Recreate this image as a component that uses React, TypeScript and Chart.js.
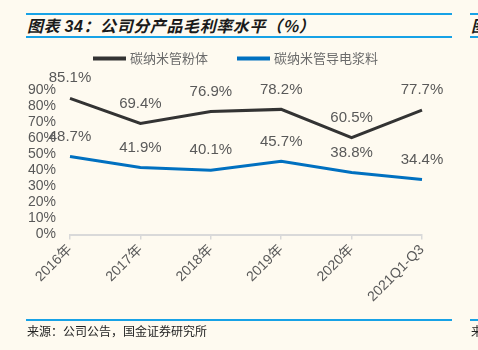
import React, { useEffect, useRef } from "react";
import { Chart, registerables } from "chart.js";

Chart.register(...registerables);

const categories = ["2016年", "2017年", "2018年", "2019年", "2020年", "2021Q1-Q3"];
const powderValues = [85.1, 69.4, 76.9, 78.2, 60.5, 77.7];
const slurryValues = [48.7, 41.9, 40.1, 45.7, 38.8, 34.4];
const seriesNames = ["碳纳米管粉体", "碳纳米管导电浆料"];
const seriesColors = ["#333333", "#0070C0"];
const yTickValues = [0, 10, 20, 30, 40, 50, 60, 70, 80, 90];

const LATIN = "'Liberation Sans', Arial, 'Noto Sans CJK SC', sans-serif";
const CJK = "'Noto Sans CJK SC', sans-serif";

const dataLabelPlugin = {
  id: "dataLabels",
  afterDatasetsDraw(chart: any) {
    const ctx = chart.ctx;
    ctx.save();
    ctx.font = `15px ${LATIN}`;
    ctx.fillStyle = "#595959";
    ctx.textAlign = "center";
    ctx.textBaseline = "middle";
    chart.data.datasets.forEach((ds: any, i: number) => {
      const meta = chart.getDatasetMeta(i);
      meta.data.forEach((pt: any, j: number) => {
        ctx.fillText(ds.data[j].toFixed(1) + "%", pt.x, pt.y - 20);
      });
    });
    ctx.restore();
  },
};

// legend drawn on the canvas: line swatch + series name
const legendPlugin = {
  id: "customLegend",
  afterDraw(chart: any) {
    const ctx = chart.ctx;
    const y = 18.5;
    const starts = [93, 237];
    ctx.save();
    ctx.font = `13px ${CJK}`;
    ctx.textBaseline = "middle";
    ctx.textAlign = "left";
    chart.data.datasets.forEach((ds: any, i: number) => {
      const x = starts[i];
      ctx.strokeStyle = ds.borderColor;
      ctx.lineWidth = 4;
      ctx.beginPath();
      ctx.moveTo(x, y);
      ctx.lineTo(x + 33, y);
      ctx.stroke();
      ctx.fillStyle = "#6b6b6b";
      ctx.fillText(ds.label, x + 37, y);
    });
    ctx.restore();
  },
};

export default function App() {
  const ref = useRef<HTMLCanvasElement>(null);
  useEffect(() => {
    document.body.style.margin = "0";
    document.body.style.background = "#FEFAF0";
    const chart = new Chart(ref.current!, {
      type: "line",
      data: {
        labels: categories,
        datasets: [
          {
            label: seriesNames[0],
            data: powderValues,
            borderColor: seriesColors[0],
            backgroundColor: seriesColors[0],
            borderWidth: 3,
            pointRadius: 0,
            tension: 0,
          },
          {
            label: seriesNames[1],
            data: slurryValues,
            borderColor: seriesColors[1],
            backgroundColor: seriesColors[1],
            borderWidth: 3,
            pointRadius: 0,
            tension: 0,
          },
        ],
      },
      options: {
        animation: false,
        responsive: false,
        maintainAspectRatio: false,
        layout: { padding: { top: 34.5, right: 56, left: 0, bottom: 0 } },
        plugins: {
          legend: { display: false },
          tooltip: { enabled: false },
        },
        scales: {
          x: {
            offset: false,
            grid: {
              display: true,
              drawOnChartArea: false,
              drawTicks: true,
              tickLength: 5,
              color: "#d9d9d9",
              lineWidth: 1.5,
            },
            border: { display: true, color: "#d9d9d9", width: 2 },
            ticks: {
              maxRotation: 45,
              minRotation: 45,
              autoSkip: false,
              color: "#595959",
              font: { size: 14, family: LATIN },
              padding: 2,
            },
            afterFit: (s: any) => {
              s.height = 85.5;
            },
          },
          y: {
            min: 0,
            max: 100,
            grid: { display: false, drawTicks: false },
            border: { display: false },
            afterBuildTicks: (s: any) => {
              s.ticks = yTickValues.map((v) => ({ value: v }));
            },
            ticks: {
              autoSkip: false,
              color: "#595959",
              font: { size: 14, family: LATIN },
              padding: 14,
              callback: (v: any) => v + "%",
            },
            afterFit: (s: any) => {
              s.width = 70;
            },
          },
        },
      },
      plugins: [dataLabelPlugin, legendPlugin],
    } as any);
    return () => chart.destroy();
  }, []);

  const blue = "#17A2E6";
  return (
    <div style={{ position: "relative", width: 478, height: 350, background: "#FEFAF0", overflow: "hidden" }}>
      <div style={{ position: "absolute", left: 26, top: 13, width: 426, height: 2, background: blue }} />
      <div style={{ position: "absolute", left: 26, top: 36, width: 426, height: 2, background: blue }} />
      <div style={{ position: "absolute", left: 470, top: 13, width: 10, height: 2, background: blue }} />
      <div style={{ position: "absolute", left: 470, top: 36, width: 10, height: 2, background: blue }} />
      <div
        style={{
          position: "absolute",
          left: 27,
          top: 15,
          height: 21,
          lineHeight: "21px",
          fontFamily: CJK,
          fontWeight: 700,
          fontStyle: "italic",
          fontSize: 16,
          color: "#1a1a1a",
          whiteSpace: "nowrap",
          letterSpacing: 0.6,
        }}
      >
        图表 <span style={{ fontFamily: LATIN }}>34</span>：公司分产品毛利率水平（%）
      </div>
      <div
        style={{
          position: "absolute",
          left: 471,
          top: 15,
          lineHeight: "21px",
          fontFamily: CJK,
          fontWeight: 700,
          fontStyle: "italic",
          fontSize: 16,
          color: "#1a1a1a",
        }}
      >
        图
      </div>
      <canvas
        ref={ref}
        width={478}
        height={280}
        style={{ position: "absolute", left: 0, top: 40, width: 478, height: 280 }}
      />
      <div style={{ position: "absolute", left: 26, top: 319, width: 426, height: 2, background: blue }} />
      <div style={{ position: "absolute", left: 470, top: 319, width: 10, height: 2, background: blue }} />
      <div
        style={{
          position: "absolute",
          left: 27,
          top: 322,
          lineHeight: "17px",
          fontFamily: CJK,
          fontSize: 12,
          color: "#222",
          whiteSpace: "nowrap",
        }}
      >
        来源：公司公告，国金证券研究所
      </div>
      <div
        style={{
          position: "absolute",
          left: 471,
          top: 322,
          lineHeight: "17px",
          fontFamily: CJK,
          fontSize: 12,
          color: "#222",
        }}
      >
        来
      </div>
    </div>
  );
}
